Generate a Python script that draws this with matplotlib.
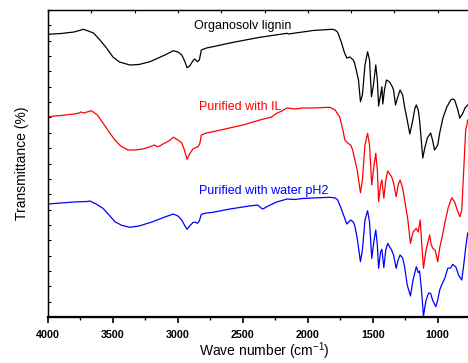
import numpy as np
import matplotlib
matplotlib.use("Agg")
import matplotlib.pyplot as plt
from matplotlib.ticker import MultipleLocator

plt.rcParams['font.family'] = ['Liberation Sans', 'DejaVu Sans']
plt.rcParams['mathtext.default'] = 'regular'

# Wavenumber (cm^-1) and transmittance (arbitrary, offset) per spectrum
wn_black = [4000, 3900, 3800, 3745, 3730, 3700, 3650, 3600, 3550, 3500, 3450, 3370, 3300, 3215, 3100,
            3035, 3000, 2970, 2945, 2930, 2910, 2895, 2880, 2870, 2850, 2835, 2820, 2780, 2730, 2600,
            2500, 2370, 2160, 2150, 1985, 1960, 1900, 1815, 1790, 1770, 1740, 1720, 1700, 1677, 1650,
            1640, 1610, 1595, 1580, 1560, 1540, 1525, 1510, 1495, 1477, 1465, 1455, 1440, 1430, 1423,
            1410, 1395, 1370, 1350, 1340, 1325, 1310, 1290, 1270, 1255, 1235, 1215, 1195, 1175, 1165,
            1150, 1140, 1115, 1100, 1080, 1055, 1040, 1025, 1000, 985, 960, 930, 900, 885, 870,
            850, 830, 810, 790, 770]
py_black = [34.3, 33.5, 32, 30, 29.3, 30.5, 33, 40, 48, 57, 62, 65, 64.5, 61.7, 55,
            50.7, 52, 55, 62, 67.7, 66, 63, 60, 59, 61.7, 60, 50, 48, 46.7, 43,
            40.5, 37.3, 33.3, 34, 31, 30.5, 30, 29.3, 30, 32.3, 43, 52, 58, 57, 60,
            63, 80, 101.7, 95, 65, 51.7, 60, 96.7, 85, 65, 80, 106, 95, 86.7, 104,
            90, 80, 82, 86.7, 90, 105, 98, 90, 95, 107, 120, 134, 122, 108, 105,
            110, 120, 158, 148, 138, 133, 140, 150, 145, 133, 118, 107, 100, 99, 100,
            108, 118, 114, 108, 105]

wn_red = [4000, 3900, 3800, 3760, 3750, 3720, 3700, 3665, 3620, 3577, 3530, 3485, 3440, 3385, 3330,
          3270, 3220, 3180, 3160, 3140, 3115, 3070, 3035, 3000, 2970, 2950, 2930, 2910, 2885, 2870,
          2845, 2830, 2820, 2780, 2730, 2500, 2370, 2280, 2240, 2200, 2160, 2140, 2100, 2040, 1960,
          1830, 1790, 1755, 1730, 1715, 1690, 1670, 1655, 1620, 1595, 1580, 1560, 1540, 1525, 1508,
          1490, 1477, 1465, 1455, 1440, 1430, 1415, 1400, 1385, 1370, 1355, 1340, 1320, 1305, 1290,
          1270, 1255, 1230, 1210, 1190, 1165, 1150, 1135, 1125, 1110, 1090, 1062, 1050, 1038, 1020,
          1000, 985, 960, 946, 920, 892, 870, 850, 830, 815, 800, 785, 775, 770]
py_red = [116.7, 115.5, 114, 113, 112, 113, 112, 110.7, 115, 123, 132, 140, 146, 150, 150,
          149, 147, 145, 146.7, 146, 144, 141, 137.3, 140, 143, 150, 159.3, 154, 149, 148,
          146.7, 143, 135, 133, 131.7, 125, 120, 117, 113.3, 111, 108, 108.3, 109, 108, 108,
          107.3, 110, 116.7, 130, 140, 143.3, 145, 150, 170, 192.7, 180, 145, 133.3, 145, 185,
          165, 153.3, 170, 201.7, 185, 180, 198.3, 180, 171, 174, 176.7, 183, 196.7, 185, 180,
          188, 200, 220, 243.3, 232, 228.3, 232, 220, 240, 268.3, 250, 235, 245, 248.3, 250,
          261.7, 248, 233, 223.3, 208, 197.7, 202, 210, 216.7, 210, 170, 130, 125, 120]

wn_blue = [4000, 3900, 3800, 3700, 3677, 3630, 3577, 3530, 3485, 3430, 3370, 3300, 3200, 3100, 3035,
           3000, 2970, 2950, 2930, 2910, 2885, 2870, 2850, 2835, 2820, 2780, 2730, 2600, 2450, 2385,
           2360, 2345, 2320, 2305, 2240, 2160, 2100, 2040, 1960, 1830, 1790, 1770, 1745, 1730, 1700,
           1670, 1650, 1640, 1620, 1595, 1580, 1560, 1540, 1525, 1508, 1490, 1477, 1465, 1455, 1440,
           1430, 1415, 1400, 1385, 1370, 1355, 1340, 1320, 1305, 1290, 1270, 1255, 1235, 1210, 1190,
           1165, 1150, 1140, 1125, 1110, 1090, 1070, 1055, 1040, 1015, 1000, 985, 970, 945, 923,
           900, 885, 860, 840, 815, 800, 785, 770]
py_blue = [204, 203, 202, 201.5, 201, 204, 208.3, 215, 221.7, 225.5, 227.3, 226, 222, 217, 214,
           216, 220, 225, 229.3, 226, 222.7, 222, 223.3, 221, 214.3, 213, 212.3, 209, 206, 205,
           208, 209, 207, 206, 202, 199, 199.5, 198.5, 198, 197.3, 198, 200, 208, 213.3, 224,
           220, 222, 225, 238, 261.7, 250, 220, 210.7, 222, 258.3, 240, 230, 245, 268.3, 252,
           249.3, 267.7, 250, 243.3, 247, 250, 255, 268.3, 260, 255, 258, 266.7, 285, 296, 280,
           266.7, 272.7, 271, 290, 316, 300, 293, 293.3, 300, 306.7, 300, 290, 285, 278, 268.3,
           268, 264.3, 267, 275, 280, 265, 248, 233]

labels = ["Organosolv lignin", "Purified with IL", "Purified with water pH2"]
colors = ["black", "#ff0000", "#0000ff"]

# convert to transmittance-like values (higher = more transmittance)
BASE = 317.0
T_black = [BASE - v for v in py_black]
T_red = [BASE - v for v in py_red]
T_blue = [BASE - v for v in py_blue]

fig = plt.figure(figsize=(4.68, 3.63), dpi=100)
ax = fig.add_axes([48/468, 46/363, 433/468, 307/363])

for wn, T, c in zip([wn_black, wn_red, wn_blue], [T_black, T_red, T_blue], colors):
    ax.plot(wn, T, color=c, lw=0.9, solid_joinstyle='round')

ax.set_xlim(4000, 667)
ax.set_ylim(0, 307)

ax.set_xticks([4000, 3500, 3000, 2500, 2000, 1500, 1000])
ax.xaxis.set_minor_locator(MultipleLocator(250))
ax.tick_params(axis='x', which='major', direction='out', length=4, width=1.2,
               labelsize=7.7, pad=5)
ax.tick_params(axis='x', which='minor', direction='out', length=2.5, width=1.0)
for lab in ax.get_xticklabels():
    lab.set_fontweight('bold')

ax.yaxis.set_major_locator(MultipleLocator(307/20))
ax.tick_params(axis='y', which='major', direction='in', length=2, width=0.8, labelleft=False)

ax.spines['bottom'].set_linewidth(1.6)
ax.spines['left'].set_linewidth(1.0)
ax.spines['top'].set_linewidth(1.0)

top = ax.twiny()
top.set_xlim(ax.get_xlim())
top.set_xticks(np.linspace(4000, 667, 11))
top.tick_params(axis='x', direction='in', length=2.5, width=0.8, labeltop=False)

ax.set_xlabel("Wave number (cm$^{-1}$)", fontsize=10, labelpad=1)
ax.set_ylabel("Transmittance (%)", fontsize=10, labelpad=14)

ax.text(2875, BASE - 26, labels[0], color=colors[0], fontsize=9, va='center', ha='left')
ax.text(2841, BASE - 107, labels[1], color=colors[1], fontsize=9, va='center', ha='left')
ax.text(2841, BASE - 191, labels[2], color=colors[2], fontsize=9, va='center', ha='left')

fig.savefig("out.png", dpi=100)
